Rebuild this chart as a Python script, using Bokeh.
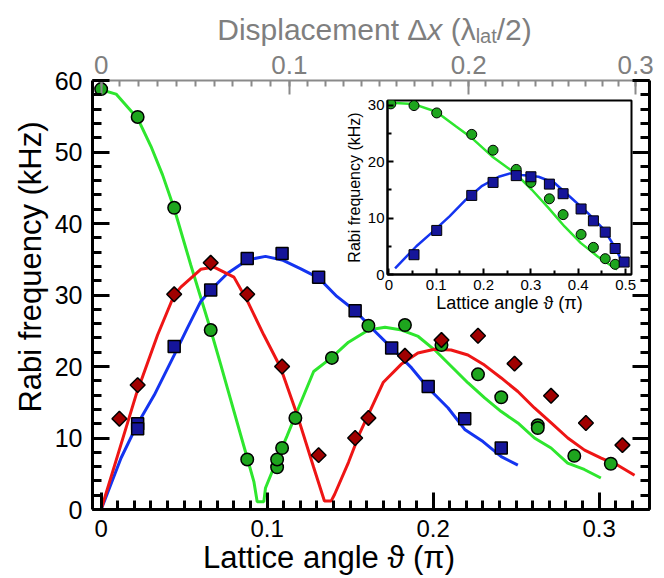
import numpy as np
from bokeh.plotting import figure
from bokeh.models import Range1d, LinearAxis, FixedTicker, Label
from bokeh.layouts import column
from bokeh.embed import file_html
from bokeh.resources import INLINE

# ---------------- data ----------------
# main panel: lattice angle (units of pi) vs Rabi frequency (kHz)
GREEN_PT_X = [0.0, 0.022, 0.044, 0.066, 0.088, 0.106, 0.106, 0.109, 0.117, 0.139, 0.161,
              0.183, 0.205, 0.227, 0.241, 0.263, 0.263, 0.285, 0.307]
GREEN_PT_Y = [58.8, 54.9, 42.2, 25.1, 7.0, 5.9, 7.0, 8.6, 12.8, 21.2, 25.7,
              25.8, 23.0, 18.9, 15.7, 11.8, 11.4, 7.5, 6.4]
BLUE_PT_X = [0.022, 0.022, 0.044, 0.066, 0.088, 0.109, 0.131, 0.153, 0.175, 0.197, 0.219, 0.241]
BLUE_PT_Y = [12.0, 11.3, 22.8, 30.7, 35.1, 35.8, 32.5, 27.8, 22.6, 17.2, 12.7, 8.6]
RED_PT_X = [0.011, 0.022, 0.044, 0.066, 0.088, 0.109, 0.131, 0.153, 0.161, 0.183,
            0.205, 0.227, 0.249, 0.271, 0.292, 0.314]
RED_PT_Y = [12.7, 17.4, 30.1, 34.5, 30.1, 20.0, 7.6, 10.0, 12.8, 21.5,
            23.7, 24.3, 20.4, 15.9, 12.1, 9.0]

GREEN_FIT_X = [0.0, 0.009, 0.022, 0.030, 0.037, 0.044, 0.054, 0.066, 0.072, 0.076, 0.088,
               0.092, 0.094, 0.098, 0.099, 0.106, 0.112, 0.118, 0.128, 0.1386, 0.149,
               0.161, 0.171, 0.181, 0.191, 0.201, 0.211, 0.221, 0.231, 0.241, 0.251,
               0.261, 0.271, 0.281, 0.291, 0.301]
GREEN_FIT_Y = [58.7, 58.1, 54.7, 50.8, 46.8, 42.1, 34.2, 25.1, 20.3, 17.0, 7.2,
               3.9, 1.1, 1.1, 3.0, 7.0, 10.3, 13.7, 19.3, 21.2, 23.4,
               25.1, 25.5, 25.1, 24.2, 22.3, 20.0, 17.7, 15.6, 13.7, 12.1,
               10.0, 8.6, 6.5, 5.6, 4.4]
BLUE_FIT_X = [0.0, 0.012, 0.022, 0.032, 0.044, 0.052, 0.060, 0.066, 0.076, 0.088, 0.099,
              0.109, 0.120, 0.131, 0.142, 0.153, 0.165, 0.175, 0.187, 0.197, 0.209,
              0.219, 0.230, 0.241, 0.251]
BLUE_FIT_Y = [0.0, 7.2, 12.0, 16.0, 21.6, 25.4, 29.1, 30.7, 33.0, 34.9, 35.4,
              34.9, 33.7, 32.4, 29.8, 27.8, 24.9, 22.6, 19.8, 17.0, 14.2,
              11.2, 9.5, 7.4, 6.2]
RED_FIT_X = [0.0, 0.010, 0.021, 0.034, 0.044, 0.048, 0.060, 0.068, 0.080, 0.088, 0.098,
             0.108, 0.118, 0.128, 0.1345, 0.1386, 0.1406, 0.149, 0.156, 0.170, 0.1807,
             0.1908, 0.2008, 0.2108, 0.2209, 0.2309, 0.241, 0.251, 0.261, 0.2711,
             0.2811, 0.2912, 0.3012, 0.3112, 0.3213]
RED_FIT_Y = [0.0, 7.6, 16.0, 24.4, 30.0, 31.1, 33.6, 33.9, 32.5, 29.2, 24.4,
             19.9, 13.3, 5.9, 1.2, 1.2, 2.1, 6.6, 10.8, 17.8, 20.3,
             21.9, 22.4, 22.3, 21.6, 20.2, 18.4, 16.5, 14.2, 12.1,
             10.0, 8.3, 7.2, 6.2, 4.8]

# inset: lattice angle up to 0.5 pi
IN_GREEN_PT_X = [0.004, 0.053, 0.101, 0.175, 0.220, 0.269, 0.300, 0.339, 0.368, 0.406, 0.432, 0.457, 0.478]
IN_GREEN_PT_Y = [30.2, 29.9, 28.6, 24.8, 22.0, 18.6, 16.3, 13.4, 10.6, 7.1, 4.8, 2.8, 1.8]
IN_BLUE_PT_X = [0.053, 0.101, 0.175, 0.220, 0.269, 0.300, 0.339, 0.368, 0.406, 0.432, 0.457, 0.478, 0.497]
IN_BLUE_PT_Y = [3.5, 7.8, 14.0, 16.3, 17.5, 17.3, 16.0, 14.3, 11.6, 9.5, 7.5, 4.6, 2.2]
IN_GREEN_FIT_X = [0.004, 0.051, 0.100, 0.142, 0.176, 0.218, 0.267, 0.302, 0.337, 0.371, 0.405, 0.441, 0.476, 0.482]
IN_GREEN_FIT_Y = [30.4, 30.2, 28.8, 26.2, 24.1, 20.9, 17.9, 15.0, 11.8, 8.5, 5.6, 3.2, 1.2, 0.9]
IN_BLUE_FIT_X = [0.013, 0.058, 0.093, 0.128, 0.162, 0.197, 0.232, 0.256, 0.281, 0.316, 0.350,
                 0.386, 0.420, 0.455, 0.476, 0.493]
IN_BLUE_FIT_Y = [1.1, 5.0, 7.6, 10.3, 13.2, 15.7, 17.3, 17.9, 17.6, 17.3, 16.2,
                 13.5, 10.9, 7.9, 5.0, 2.3]

# axes ticks
X_TICKS = [0.0, 0.1, 0.2, 0.3]
X_TICK_LABELS = ["0", "0.1", "0.2", "0.3"]
Y_TICKS = [0, 10, 20, 30, 40, 50, 60]
# top axis: displacement dx (lambda_lat/2) and the lattice angle where it sits
TOP_DX = [0.0, 0.1, 0.2, 0.3]
TOP_THETA = [0.0, 0.1134, 0.2214, 0.3219]
TOP_LABELS = ["0", "0.1", "0.2", "0.3"]
IN_X_TICKS = [0.0, 0.1, 0.2, 0.3, 0.4, 0.5]
IN_X_LABELS = ["0", "0.1", "0.2", "0.3", "0.4", "0.5"]
IN_Y_TICKS = [0, 10, 20, 30]

# ---------------- styles ----------------
FONT = "Liberation Sans"
GREEN_LINE, GREEN_FILL = "#2EE62E", "#1EA51E"
BLUE_LINE, BLUE_FILL = "#1434F0", "#15159A"
RED_LINE, RED_FILL = "#EE1515", "#A00000"
GREY = "#8a8a8a"
GREY_TXT = "#7f7f7f"

W, H = 664, 578
p = figure(width=W, height=H, output_backend="svg", toolbar_location=None, title=None,
           x_range=Range1d(-0.0052, 0.3303), y_range=Range1d(0, 60),
           x_axis_type=None, y_axis_type=None, frame_align=False,
           min_border_left=92, min_border_right=15, min_border_top=80, min_border_bottom=69)
p.outline_line_color = None
p.background_fill_color = "white"
p.border_fill_color = "white"


def style_axis(ax, color, lw, maj, mnr, fsize, lcolor):
    ax.axis_line_color = color
    ax.axis_line_width = lw
    ax.major_tick_line_color = color
    ax.minor_tick_line_color = color
    ax.major_tick_line_width = lw
    ax.minor_tick_line_width = lw
    ax.major_tick_in = maj
    ax.major_tick_out = 0
    ax.minor_tick_in = mnr
    ax.minor_tick_out = 0
    ax.major_label_text_font = FONT
    ax.major_label_text_font_size = fsize
    ax.major_label_text_color = lcolor
    ax.axis_label_text_font = FONT
    ax.axis_label_text_font_style = "normal"
    ax.axis_label_text_color = lcolor


x_minor = [round(v, 3) for v in np.arange(0, 0.331, 0.01)]
xb = LinearAxis(ticker=FixedTicker(ticks=X_TICKS, minor_ticks=x_minor),
                major_label_overrides=dict(zip(X_TICKS, X_TICK_LABELS)))
style_axis(xb, "black", 3, 17, 9, "24px", "black")
xb.major_label_standoff = 10
p.add_layout(xb, "below")

y_minor = list(range(0, 61, 2))
yl = LinearAxis(ticker=FixedTicker(ticks=Y_TICKS, minor_ticks=y_minor))
style_axis(yl, "black", 3, 17, 9, "25px", "black")
yl.major_label_standoff = 10
p.add_layout(yl, "left")

# mirrored right spine: ticks only, labels not painted
yr = LinearAxis(ticker=FixedTicker(ticks=Y_TICKS, minor_ticks=y_minor))
style_axis(yr, "black", 3, 17, 9, "0px", None)
yr.major_label_standoff = 0
p.add_layout(yr, "right")

top_major = [round(float(v), 5) for v in np.interp(TOP_DX, TOP_DX, TOP_THETA)]
top_minor_dx = np.arange(0, 0.301, 0.01)
top_minor = [round(float(v), 5) for v in np.interp(top_minor_dx, TOP_DX, TOP_THETA)]
xt = LinearAxis(ticker=FixedTicker(ticks=top_major, minor_ticks=top_minor),
                major_label_overrides=dict(zip(top_major, TOP_LABELS)))
style_axis(xt, GREY, 2, 14, 6, "26px", GREY_TXT)
xt.major_label_standoff = 7
p.add_layout(xt, "above")

p.line(GREEN_FIT_X, GREEN_FIT_Y, line_color=GREEN_LINE, line_width=3)
p.line(BLUE_FIT_X, BLUE_FIT_Y, line_color=BLUE_LINE, line_width=3)
p.line(RED_FIT_X, RED_FIT_Y, line_color=RED_LINE, line_width=3)
p.scatter(GREEN_PT_X, GREEN_PT_Y, marker="circle", size=12.5, fill_color=GREEN_FILL,
          line_color="black", line_width=1.5)
p.scatter(BLUE_PT_X, BLUE_PT_Y, marker="square", size=12, fill_color=BLUE_FILL,
          line_color="black", line_width=1.5)
p.scatter(RED_PT_X, RED_PT_Y, marker="square", angle=np.pi / 4, size=10.5, fill_color=RED_FILL,
          line_color="black", line_width=1.5)

# ---------------- inset ----------------
IL, IR, IT, IB = 90, 9, 10, 44
IW, IH = IL + 244 + IR, 228
inset = figure(width=IW, height=IH, output_backend="svg", toolbar_location=None, title=None,
               x_range=Range1d(-0.003, 0.5125), y_range=Range1d(0, 30.8),
               x_axis_type=None, y_axis_type=None, frame_align=False,
               min_border_left=IL, min_border_right=IR, min_border_top=IT, min_border_bottom=IB)
inset.border_fill_color = None
inset.background_fill_color = "white"
inset.outline_line_color = "black"
inset.outline_line_width = 2

ixb = LinearAxis(ticker=FixedTicker(ticks=IN_X_TICKS, minor_ticks=[0.05, 0.15, 0.25, 0.35, 0.45]),
                 major_label_overrides=dict(zip(IN_X_TICKS, IN_X_LABELS)),
                 axis_label="Lattice angle ϑ (π)")
style_axis(ixb, "black", 2, 6, 4, "15px", "black")
ixb.major_label_standoff = 5
ixb.axis_label_text_font_size = "18px"
ixb.axis_label_standoff = 0
inset.add_layout(ixb, "below")

iyl = LinearAxis(ticker=FixedTicker(ticks=IN_Y_TICKS, minor_ticks=[5, 15, 25]),
                 axis_label="Rabi frequency (kHz)")
style_axis(iyl, "black", 2, 6, 4, "15px", "black")
iyl.major_label_standoff = 3
iyl.axis_label_text_font_size = "16px"
iyl.axis_label_standoff = 2
inset.add_layout(iyl, "left")

inset.line(IN_GREEN_FIT_X, IN_GREEN_FIT_Y, line_color=GREEN_LINE, line_width=2.5)
inset.line(IN_BLUE_FIT_X, IN_BLUE_FIT_Y, line_color=BLUE_LINE, line_width=2.5)
inset.scatter(IN_GREEN_PT_X, IN_GREEN_PT_Y, marker="circle", size=10, fill_color=GREEN_FILL,
              line_color="black", line_width=1)
inset.scatter(IN_BLUE_PT_X, IN_BLUE_PT_Y, marker="square", size=10, fill_color=BLUE_FILL,
              line_color="black", line_width=1)

INSET_LEFT, INSET_TOP = 387 - IL, 100 - IT
inset.margin = (INSET_TOP - H, 0, 0, INSET_LEFT)

# ---------------- text overlay (axis titles), pixel coordinates ----------------
ov = figure(width=W, height=H, output_backend="svg", toolbar_location=None, title=None,
            x_range=Range1d(0, W), y_range=Range1d(H, 0), frame_align=False,
            x_axis_type=None, y_axis_type=None, min_border=0)
ov.outline_line_color = None
ov.background_fill_color = None
ov.border_fill_color = None
ov.margin = (-(INSET_TOP + IH), 0, 0, 0)

F = 30
FS = 20
x0 = 374 - (9.781 * F + 1.056 * FS) / 2
pieces = [("Displacement Δ", F, "normal", x0, 29),
          ("x", F, "italic", x0 + 7.003 * F, 29),
          ("(λ", F, "normal", x0 + 7.781 * F, 29),
          ("lat", FS, "normal", x0 + 8.614 * F, 35),
          ("/2)", F, "normal", x0 + 8.614 * F + 1.056 * FS, 29)]
for txt, fs, style, xx, yy in pieces:
    ov.add_layout(Label(x=xx, y=yy, text=txt, text_font=FONT, text_font_size=f"{fs}px",
                        text_font_style=style, text_color=GREY_TXT,
                        text_baseline="alphabetic", text_align="left"))

ov.add_layout(Label(x=328.5, y=557, text="Lattice angle ϑ (π)", text_font=FONT,
                    text_font_size="31px", text_color="black",
                    text_baseline="alphabetic", text_align="center"))
ov.add_layout(Label(x=30, y=266.5, text="Rabi frequency (kHz)", text_font=FONT,
                    text_font_size="31px", text_color="black", angle=np.pi / 2,
                    text_baseline="middle", text_align="center"))

layout = column(p, inset, ov, spacing=0)
open("out.html", "w").write(file_html(layout, INLINE))
